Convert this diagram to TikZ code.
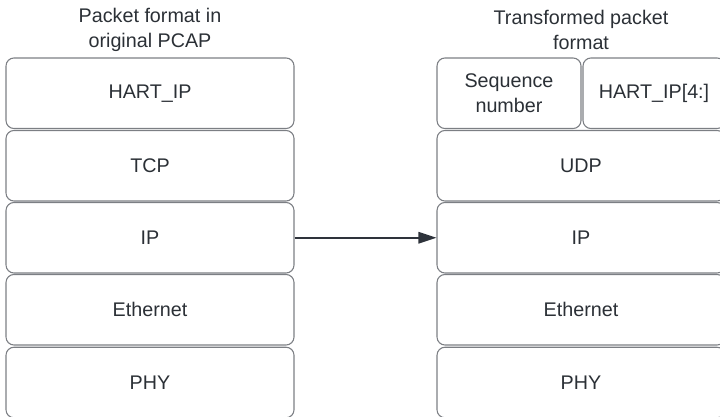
\documentclass[tikz,border=0pt]{standalone}
\usepackage{fontspec}
\setmainfont{Liberation Sans}
\usetikzlibrary{arrows.meta}
\definecolor{txt}{HTML}{2B3036}
\definecolor{edge}{HTML}{7C7F84}
\definecolor{arr}{HTML}{2E333B}
\begin{document}
\begin{tikzpicture}[x=0.75pt,y=-0.75pt,
  layer/.style={draw=edge,line width=0.8pt,rounded corners=6pt,inner sep=0pt,
    minimum height=52.9pt,text=txt,font=\fontsize{14.8}{18.4}\selectfont,align=center},
  wide/.style={layer,minimum width=216pt},
  title/.style={text=txt,font=\fontsize{14.8}{18.4}\selectfont,align=center,inner sep=0pt}]
\useasboundingbox (0,0) rectangle (720,417);

% original stack
\node[title] (tl) at (150,30) {Packet format in\\original PCAP};
\node[wide] (l1) at (150,93.25) {HART\_IP};
\node[wide] (l2) at (150,165.75) {TCP};
\node[wide] (l3) at (150,237.75) {IP};
\node[wide] (l4) at (150,309.75) {Ethernet};
\node[wide] (l5) at (150,382.5) {PHY};

% transformed stack
\node[title] (tr) at (581,30) {Transformed packet\\format};
\node[layer,minimum width=108pt] (r1a) at (509,93.25) {Sequence\\number};
\node[layer,minimum width=106.5pt] (r1b) at (654,93.25) {HART\_IP[4:]};
\node[wide] (r2) at (581,165.75) {UDP};
\node[wide] (r3) at (581,237.75) {IP};
\node[wide] (r4) at (581,309.75) {Ethernet};
\node[wide] (r5) at (581,382.5) {PHY};

% transformation arrow
\draw[arr,line width=1.6pt,-{Triangle[length=13.5pt,width=8.5pt]}] (l3.east) -- (r3.west);
\end{tikzpicture}
\end{document}
